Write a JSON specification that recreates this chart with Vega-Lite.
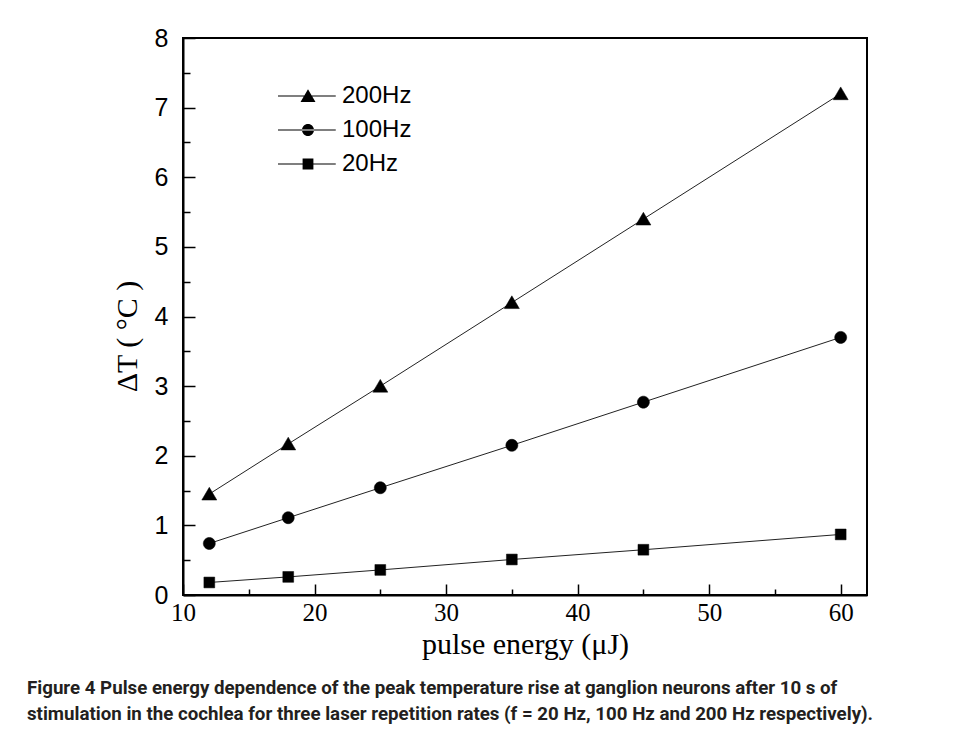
{
  "$schema": "https://vega.github.io/schema/vega-lite/v6.json",
  "autosize": "none",
  "width": 684,
  "height": 557,
  "padding": {"left": 183, "top": 38, "right": 90, "bottom": 135},
  "background": "white",
  "config": {
    "view": {"stroke": "black", "strokeWidth": 2},
    "axis": {"grid": false, "domainColor": "black", "domainWidth": 2, "tickColor": "black", "tickWidth": 1.5, "labelColor": "black", "titleColor": "black"}
  },
  "title": {
    "text": ["Figure 4 Pulse energy dependence of the peak temperature rise at ganglion neurons after 10 s of", "stimulation in the cochlea for three laser repetition rates (f = 20 Hz, 100 Hz and 200 Hz respectively)."],
    "orient": "bottom",
    "anchor": "start",
    "frame": "group",
    "dx": -156,
    "offset": 20,
    "font": "Roboto",
    "fontSize": 18.7,
    "fontWeight": "bold",
    "lineHeight": 26,
    "color": "#231f20"
  },
  "data": {
    "values": [
      {"E": 12, "dT": 1.45, "rate": "200Hz"},
      {"E": 18, "dT": 2.17, "rate": "200Hz"},
      {"E": 25, "dT": 3.0, "rate": "200Hz"},
      {"E": 35, "dT": 4.2, "rate": "200Hz"},
      {"E": 45, "dT": 5.4, "rate": "200Hz"},
      {"E": 60, "dT": 7.2, "rate": "200Hz"},
      {"E": 12, "dT": 0.74, "rate": "100Hz"},
      {"E": 18, "dT": 1.11, "rate": "100Hz"},
      {"E": 25, "dT": 1.54, "rate": "100Hz"},
      {"E": 35, "dT": 2.15, "rate": "100Hz"},
      {"E": 45, "dT": 2.77, "rate": "100Hz"},
      {"E": 60, "dT": 3.7, "rate": "100Hz"},
      {"E": 12, "dT": 0.18, "rate": "20Hz"},
      {"E": 18, "dT": 0.26, "rate": "20Hz"},
      {"E": 25, "dT": 0.36, "rate": "20Hz"},
      {"E": 35, "dT": 0.51, "rate": "20Hz"},
      {"E": 45, "dT": 0.65, "rate": "20Hz"},
      {"E": 60, "dT": 0.87, "rate": "20Hz"}
    ]
  },
  "resolve": {"axis": {"x": "independent", "y": "independent"}, "scale": {"shape": "independent"}, "legend": {"shape": "independent"}},
  "layer": [
    {
      "mark": {"type": "line", "stroke": "#222", "strokeWidth": 1},
      "encoding": {
        "x": {
          "field": "E", "type": "quantitative",
          "scale": {"domain": [10, 62], "nice": false, "zero": false},
          "axis": {
            "orient": "bottom",
            "values": [10, 20, 30, 40, 50, 60],
            "tickSize": -11,
            "labelPadding": 16,
            "labelFont": "Liberation Serif",
            "labelFontSize": 25,
            "labelFontWeight": "normal",
            "labelFlush": false,
            "title": "pulse energy (μJ)",
            "titleFont": "Liberation Serif",
            "titleFontSize": 30,
            "titleFontWeight": "normal",
            "titleBaseline": "alphabetic",
            "titleY": 58
          }
        },
        "y": {
          "field": "dT", "type": "quantitative",
          "scale": {"domain": [0, 8], "nice": false},
          "axis": {
            "orient": "left",
            "values": [0, 1, 2, 3, 4, 5, 6, 7, 8],
            "tickSize": -12,
            "labelPadding": 27,
            "labelFont": "Liberation Sans",
            "labelFontSize": 25,
            "labelFlush": false,
            "title": "ΔT ( °C )",
            "titleFont": "Liberation Serif",
            "titleFontSize": 30,
            "titleFontWeight": "normal",
            "titleBaseline": "middle",
            "titleX": -56,
            "titleY": 298
          }
        },
        "detail": {"field": "rate", "type": "nominal"}
      }
    },
    {
      "mark": {"type": "point", "filled": true, "fill": "black", "stroke": "black", "strokeWidth": 0.5, "opacity": 1, "size": 225},
      "encoding": {
        "x": {
          "field": "E", "type": "quantitative",
          "axis": {"orient": "bottom", "values": [15, 25, 35, 45, 55], "tickSize": -6, "labels": false, "domain": false, "title": null}
        },
        "y": {
          "field": "dT", "type": "quantitative",
          "axis": {"orient": "left", "values": [0.5, 1.5, 2.5, 3.5, 4.5, 5.5, 6.5, 7.5], "tickSize": -7, "labels": false, "domain": false, "title": null}
        },
        "shape": {
          "field": "rate", "type": "nominal",
          "scale": {"domain": ["200Hz", "100Hz", "20Hz"], "range": ["M-1,0.8L0,-0.9L1,0.8Z", "M-0.8,0A0.8,0.8,0,1,0,0.8,0A0.8,0.8,0,1,0,-0.8,0Z", "M-0.72,-0.72H0.72V0.72H-0.72Z"]},
          "legend": null
        }
      }
    },
    {
      "transform": [{"filter": "false"}],
      "mark": {"type": "point", "filled": true, "fill": "black", "opacity": 1, "size": 225},
      "encoding": {
        "x": {"field": "E", "type": "quantitative", "axis": null},
        "y": {"field": "dT", "type": "quantitative", "axis": null},
        "shape": {
          "field": "rate", "type": "nominal",
          "scale": {"domain": ["200Hz", "100Hz", "20Hz"], "range": [
            "M-4,-0.07H3.7V0.07H-4ZM-1,0.8L0,-0.9L1,0.8Z",
            "M-4,-0.07H3.7V0.07H-4ZM-0.8,0A0.8,0.8,0,1,0,0.8,0A0.8,0.8,0,1,0,-0.8,0Z",
            "M-4,-0.07H3.7V0.07H-4ZM-0.72,-0.72H0.72V0.72H-0.72Z"
          ]},
          "legend": {
            "title": null,
            "orient": "none",
            "legendX": 113,
            "legendY": 46,
            "padding": 0,
            "symbolSize": 225,
            "symbolFillColor": "black",
            "symbolOpacity": 1,
            "symbolStrokeWidth": 0,
            "labelFont": "Liberation Sans",
            "labelFontSize": 24,
            "labelColor": "black",
            "labelOffset": 22,
            "rowPadding": 10
          }
        }
      }
    }
  ]
}
